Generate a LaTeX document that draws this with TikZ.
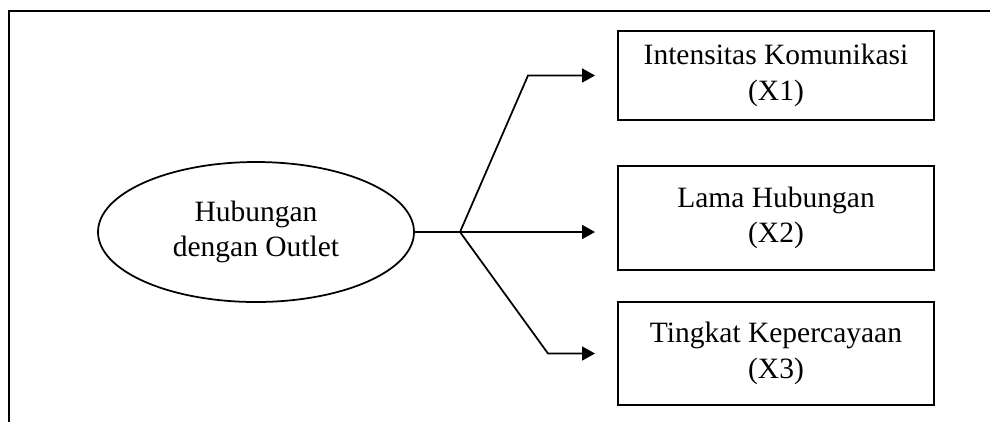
\documentclass[tikz,border=0pt]{standalone}
\usepackage{fontspec}
\setmainfont{Liberation Serif}
\usetikzlibrary{positioning, arrows.meta, shapes.geometric}

\begin{document}
\begin{tikzpicture}[x=0.4pt, y=-0.4pt,
    varbox/.style={draw, line width=0.8pt, minimum width=126.4pt, inner sep=0pt,
        align=center, font=\fontsize{11.8}{14.2}\selectfont},
    konsep/.style={draw, ellipse, line width=0.7pt, minimum width=126.4pt,
        minimum height=56pt, inner sep=0pt, align=center,
        font=\fontsize{11.8}{14.2}\selectfont},
    panah/.style={line width=0.7pt, -{Triangle[length=5.2pt, width=5.6pt]}}]

\useasboundingbox (0,0) rectangle (990,422);

% frame
\draw[line width=0.8pt] (990,11) -- (9,11) -- (9,422);

% concept and indicators
\node[konsep] (hub) at (256,232) {Hubungan\\dengan Outlet};
\node[varbox, minimum height=35.6pt] (x1) at (776,75.5) {Intensitas Komunikasi\\(X1)};
\node[varbox, minimum height=41.6pt] (x2) at (776,218) {Lama Hubungan\\(X2)};
\node[varbox, minimum height=41.2pt] (x3) at (776,353.5) {Tingkat Kepercayaan\\(X3)};

% branches
\coordinate (cabang) at (460,232);
\coordinate (tekuk1) at (528,75.5);
\coordinate (tekuk3) at (548,353.5);
\coordinate (ujung1) at (595,75.5);
\coordinate (ujung2) at (595,232);
\coordinate (ujung3) at (595,353.5);

\draw[line width=0.7pt] (hub.east) -- (cabang);
\draw[panah] (cabang) -- (tekuk1) -- (ujung1);
\draw[panah] (cabang) -- (ujung2);
\draw[panah] (cabang) -- (tekuk3) -- (ujung3);

\end{tikzpicture}
\end{document}
